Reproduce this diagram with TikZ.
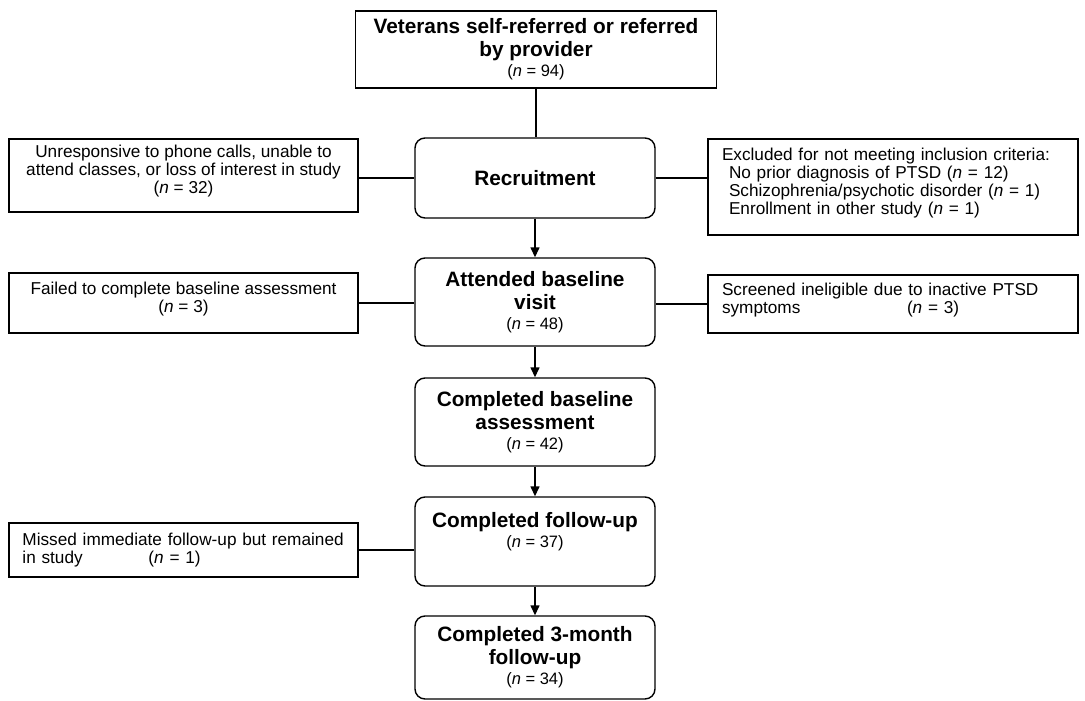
\documentclass[tikz,border=0pt]{standalone}
\usepackage{fontspec}
\setmainfont{Liberation Sans}
\usetikzlibrary{arrows.meta,positioning}
\newcommand{\headfont}{\fontsize{20.8}{23}\selectfont\bfseries}
\newcommand{\countfont}{\fontsize{16.5}{19}\selectfont\mdseries}
\tikzset{every path/.style={black,line width=1.4pt},
  mainbox/.style={draw,rounded corners=10pt,minimum width=240pt,align=center,inner sep=0pt,font=\headfont},
  sidebox/.style={draw,inner sep=0pt,minimum width=349pt,font=\fontsize{17.2}{18}\selectfont},
  flow/.style={-{Triangle[length=10pt,width=9pt]}}}

\begin{document}
\begin{tikzpicture}[x=1pt,y=-1pt]
     \useasboundingbox (0,0) rectangle (1085,701);
     \node[draw,minimum width=361pt,minimum height=77pt,align=center,inner sep=0pt,font=\headfont] (source) at (536,49.5)
       {Veterans self-referred or referred\\by provider\\[-3pt]{\countfont(\textit{n} = 94)}};
     \node[mainbox,minimum height=80pt] (recruit) at (535,178) {Recruitment};
     \node[mainbox,minimum height=88pt] (attend) at (535,302) {Attended baseline\\visit\\[-3pt]{\countfont(\textit{n} = 48)}};
     \node[mainbox,minimum height=88pt] (baseline) at (535,422) {Completed baseline\\assessment\\[-3pt]{\countfont(\textit{n} = 42)}};
     \node[mainbox,minimum height=89pt] (followup) at (535,541.5) {Completed follow-up\\[-3pt]{\countfont(\textit{n} = 37)}\\\mbox{}};
     \node[mainbox,minimum height=83pt] (threemonth) at (535,657.5) {Completed 3-month\\follow-up\\[-3pt]{\countfont(\textit{n} = 34)}};
     \node[sidebox,minimum height=73pt,align=center] (lostcontact) at (183.5,175.5)
       {Unresponsive to phone calls, unable to\\attend classes, or loss of interest in study\\(\textit{n} = 32)\\[-6pt]\mbox{}};
     \node[sidebox,minimum height=60pt,align=center] (nobaseline) at (183.5,303)
       {Failed to complete baseline assessment\\(\textit{n} = 3)\\[-6pt]\mbox{}};
     \node[sidebox,minimum height=54pt,text width=322pt,align=left] (missed) at (183.5,550)
       {Missed immediate follow-up but remained\\\makebox[126pt][l]{in study}(\textit{n} = 1)};
     \node[sidebox,minimum width=370pt,minimum height=96pt,text width=342pt,align=left] (excluded) at (893,187)
       {Excluded for not meeting inclusion criteria:\\
        \hspace*{7pt}No prior diagnosis of PTSD (\textit{n} = 12)\\
        \hspace*{7pt}Schizophrenia/psychotic disorder (\textit{n} = 1)\\
        \hspace*{7pt}Enrollment in other study (\textit{n} = 1)\\[-7pt]\mbox{}};
     \node[sidebox,minimum width=370pt,minimum height=58pt,text width=342pt,align=left] (inactive) at (893,304)
       {Screened ineligible due to inactive PTSD\\\makebox[185pt][l]{symptoms}(\textit{n} = 3)\\[-6pt]\mbox{}};
     \draw (source.south) -- (source.south |- recruit.north);
     \draw[flow] (recruit) -- (attend);
     \draw[flow] (attend) -- (baseline);
     \draw[flow] (baseline) -- (followup);
     \draw[flow] (followup) -- (threemonth);
     \draw (lostcontact.east |- recruit.west) -- (recruit.west);
     \draw (recruit.east) -- (excluded.west |- recruit.east);
     \draw (nobaseline.east) -- (attend.west |- nobaseline.east);
     \draw (inactive.west) -- (attend.east |- inactive.west);
     \draw (missed.east) -- (followup.west |- missed.east);
\end{tikzpicture}
\end{document}
